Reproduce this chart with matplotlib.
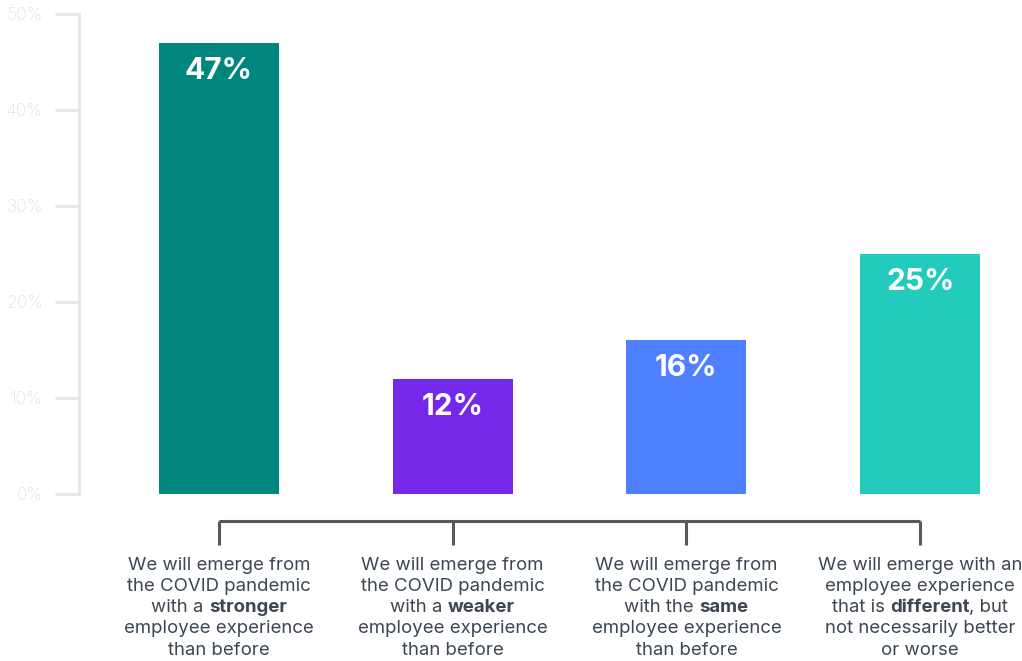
import matplotlib.pyplot as plt

plt.rcParams['font.family'] = ['Inter', 'DejaVu Sans']

# survey answers, share of respondents (%)
values = [47, 12, 16, 25]
bar_colors = ["#00857f", "#7428ea", "#4f80ff", "#22cbbb"]
y_ticks = [0, 10, 20, 30, 40, 50]

# category text, one entry per line; **word** is set in bold
label_lines = [
    ["We will emerge from", "the COVID pandemic", "with a **stronger**",
     "employee experience", "than before"],
    ["We will emerge from", "the COVID pandemic", "with a **weaker**",
     "employee experience", "than before"],
    ["We will emerge from", "the COVID pandemic", "with the **same**",
     "employee experience", "than before"],
    ["We will emerge with an", "employee experience", "that is **different**, but",
     "not necessarily better", "or worse"],
]

W, H, DPI = 1022, 661, 100
fig = plt.figure(figsize=(W / DPI, H / DPI), dpi=DPI)
ax = fig.add_axes([79 / W, 167 / H, (W - 79) / W, 480 / H])

x = list(range(len(values)))
bars = ax.bar(x, values, width=0.513, color=bar_colors, zorder=2)

ax.set_xlim(-0.599, 3.436)
ax.set_ylim(0, 50)

for s in ["top", "right", "bottom"]:
    ax.spines[s].set_visible(False)
ax.spines["left"].set_color("#e6e6e6")
ax.spines["left"].set_linewidth(2)
ax.set_xticks([])
ax.set_yticks(y_ticks)
ax.set_yticklabels([f"{t}%" for t in y_ticks])
ax.tick_params(axis="y", length=17, width=2, color="#e6e6e6",
               labelcolor="#e4e4e4", labelsize=12.6, pad=9)
for lbl in ax.get_yticklabels():
    lbl.set_fontweight("light")

# value labels inside the top of each bar
for xi, v in zip(x, values):
    ax.annotate(f"{v}%", (xi, v), xytext=(0, -20), textcoords="offset points",
                ha="center", va="center", color="white", fontsize=21.5,
                fontweight="bold")

# bracket joining the categories
bracket_color = "#585858"
ax.plot([x[0], x[-1]], [-2.8, -2.8], color=bracket_color, lw=2.2,
        clip_on=False, solid_capstyle="butt")
for xi in x:
    ax.plot([xi, xi], [-2.8, -5.3], color=bracket_color, lw=2.2,
            clip_on=False, solid_capstyle="butt")

# category labels with bold keywords, centred under each bar
renderer = fig.canvas.get_renderer()
text_color = "#3c4753"
fs = 13.4
line_h = 21.3
first_y = 565


def pieces_of(line):
    parts = line.split("**")
    return [(p, "bold" if i % 2 else "normal") for i, p in enumerate(parts) if p]


for xi, lines in zip(x, label_lines):
    cx = ax.transData.transform((xi, 0))[0]
    for li, line in enumerate(lines):
        ypix = H - (first_y + li * line_h)
        pieces = pieces_of(line)
        texts = []
        widths = []
        for txt, wt in pieces:
            t = fig.text(0, ypix / H, txt.replace(" ", "\u00a0"), fontsize=fs,
                         fontweight=wt, color=text_color, va="center", ha="left")
            texts.append(t)
            widths.append(t.get_window_extent(renderer).width)
        left = cx - sum(widths) / 2
        for t, w in zip(texts, widths):
            t.set_x(left / W)
            left += w

fig.savefig("out.png", dpi=DPI)
